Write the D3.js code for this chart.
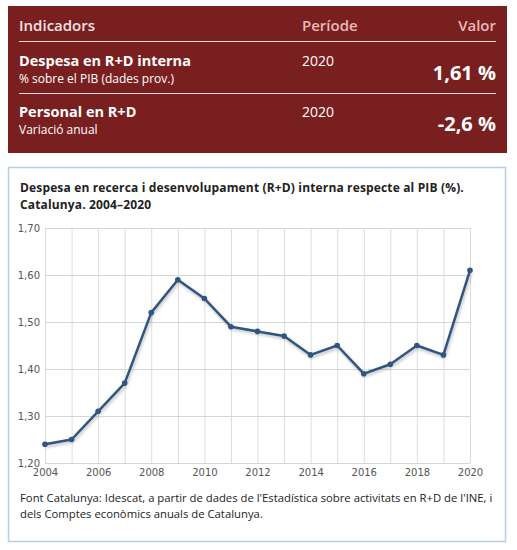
<!DOCTYPE html>
<html>
<head>
<meta charset="utf-8">
<script src="https://cdn.jsdelivr.net/npm/d3@7"></script>
<style>
  body { margin: 0; background: #fff; }
  svg { display: block; font-family: "Open Sans", sans-serif; }
</style>
</head>
<body>
<div id="chart"></div>
<script>
// Indicator table
var headerLabels = ["Indicadors", "Període", "Valor"];
var indicatorNames = ["Despesa en R+D interna", "Personal en R+D"];
var indicatorNotes = ["% sobre el PIB (dades prov.)", "Variació anual"];
var indicatorPeriods = ["2020", "2020"];
var indicatorValues = ["1,61 %", "-2,6 %"];

// Chart data
var years = [2004, 2005, 2006, 2007, 2008, 2009, 2010, 2011, 2012, 2013, 2014, 2015, 2016, 2017, 2018, 2019, 2020];
var rdShare = [1.24, 1.25, 1.31, 1.37, 1.52, 1.59, 1.55, 1.49, 1.48, 1.47, 1.43, 1.45, 1.39, 1.41, 1.45, 1.43, 1.61];
var yTicks = [1.2, 1.3, 1.4, 1.5, 1.6, 1.7];
var xTicks = [2004, 2006, 2008, 2010, 2012, 2014, 2016, 2018, 2020];
var titleLines = ["Despesa en recerca i desenvolupament (R+D) interna respecte al PIB (%).", "Catalunya. 2004–2020"];
var sourceLines = ["Font Catalunya: Idescat, a partir de dades de l'Estadística sobre activitats en R+D de l'INE, i", "dels Comptes econòmics anuals de Catalunya."];

var svgWidth = 517;
var svgHeight = 550;

var svg = d3.select("#chart")
  .append("svg")
  .attr("width", svgWidth)
  .attr("height", svgHeight);

// ---- red indicator box ----
var box = svg.append("g");
box.append("rect")
  .attr("x", 8).attr("y", 6)
  .attr("width", 499).attr("height", 147)
  .attr("fill", "#7a1f20");

box.append("text").attr("x", 19).attr("y", 31)
  .attr("font-size", 15).attr("font-weight", 600).attr("fill", "#f3e3e3")
  .text(headerLabels[0]);
box.append("text").attr("x", 302).attr("y", 31)
  .attr("font-size", 15).attr("font-weight", 600).attr("fill", "#e9b9b9")
  .text(headerLabels[1]);
box.append("text").attr("x", 496).attr("y", 31)
  .attr("text-anchor", "end")
  .attr("font-size", 15).attr("font-weight", 600).attr("fill", "#e9b9b9")
  .text(headerLabels[2]);

var rowTop = [66, 117];
box.selectAll("line.div")
  .data([41, 93])
  .enter().append("line")
  .attr("class", "div")
  .attr("x1", 19).attr("x2", 496)
  .attr("y1", d => d + 0.5).attr("y2", d => d + 0.5)
  .attr("stroke", "#f0dcdc").attr("stroke-width", 1);

indicatorNames.forEach(function(name, i) {
  var y = rowTop[i];
  box.append("text").attr("x", 19).attr("y", y)
    .attr("font-size", 14.5).attr("font-weight", 700).attr("fill", "#fff")
    .text(name);
  box.append("text").attr("x", 19).attr("y", y + 16.5)
    .attr("font-size", 12).attr("fill", "#fff")
    .text(indicatorNotes[i]);
  box.append("text").attr("x", 302).attr("y", y)
    .attr("font-size", 14).attr("fill", "#fff")
    .text(indicatorPeriods[i]);
  box.append("text").attr("x", 496).attr("y", y + 13.5)
    .attr("text-anchor", "end")
    .attr("font-size", 20).attr("font-weight", 700).attr("fill", "#fff")
    .text(indicatorValues[i]);
});

// ---- chart box ----
svg.append("rect")
  .attr("x", 8.5).attr("y", 167.5)
  .attr("width", 497).attr("height", 374)
  .attr("fill", "#fff")
  .attr("stroke", "#b7cde6").attr("stroke-width", 1.5);

svg.append("g")
  .selectAll("text")
  .data(titleLines)
  .enter().append("text")
  .attr("x", 20)
  .attr("y", (d, i) => 192 + i * 16.5)
  .attr("font-size", 12).attr("font-weight", 700).attr("fill", "#222")
  .attr("letter-spacing", 0.15)
  .text(d => d);

var margin = { top: 228, left: 45 };
var width = 470 - 45;
var height = 463 - 228;

var chartGroup = svg.append("g")
  .attr("transform", `translate(${margin.left}, ${margin.top})`);

var xScale = d3.scaleLinear()
  .domain([2004, 2020])
  .range([0, width]);

var yScale = d3.scaleLinear()
  .domain([1.2, 1.7])
  .range([height, 0]);

// gridlines
chartGroup.append("g")
  .selectAll("line")
  .data(years)
  .enter().append("line")
  .attr("x1", d => xScale(d) + 0.5).attr("x2", d => xScale(d) + 0.5)
  .attr("y1", 0).attr("y2", height)
  .attr("stroke", "#dcdcdc");

chartGroup.append("g")
  .selectAll("line")
  .data(yTicks)
  .enter().append("line")
  .attr("x1", 0).attr("x2", width)
  .attr("y1", d => yScale(d) + 0.5).attr("y2", d => yScale(d) + 0.5)
  .attr("stroke", "#d6d6d6");

// axes labels
var fmt = d => d.toFixed(2).replace(".", ",");
var leftAxis = d3.axisLeft(yScale).tickValues(yTicks).tickFormat(fmt).tickSize(0).tickPadding(5);
var bottomAxis = d3.axisBottom(xScale).tickValues(xTicks).tickFormat(d3.format("d")).tickSize(0).tickPadding(6);

var yAxisG = chartGroup.append("g").call(leftAxis);
var xAxisG = chartGroup.append("g").attr("transform", `translate(0, ${height})`).call(bottomAxis);
[yAxisG, xAxisG].forEach(function(g) {
  g.select(".domain").remove();
  g.selectAll("text")
    .attr("font-family", "DejaVu Sans, Verdana, sans-serif")
    .attr("font-size", 10)
    .attr("fill", "#555");
});

// line
var line = d3.line()
  .x((d, i) => xScale(years[i]))
  .y(d => yScale(d));

var defs = svg.append("defs");
defs.append("filter").attr("id", "blur")
  .append("feGaussianBlur").attr("stdDeviation", 1.2);

chartGroup.append("path")
  .datum(rdShare)
  .attr("d", line)
  .attr("transform", "translate(1, 2)")
  .attr("fill", "none")
  .attr("stroke", "#999")
  .attr("stroke-opacity", 0.4)
  .attr("stroke-width", 4)
  .attr("filter", "url(#blur)");

chartGroup.append("path")
  .datum(rdShare)
  .attr("d", line)
  .attr("fill", "none")
  .attr("stroke", "#2f5680")
  .attr("stroke-width", 2.5)
  .attr("stroke-linejoin", "round");

chartGroup.selectAll("circle")
  .data(rdShare)
  .enter().append("circle")
  .attr("cx", (d, i) => xScale(years[i]))
  .attr("cy", d => yScale(d))
  .attr("r", 2.8)
  .attr("fill", "#2f5680");

// source
svg.append("g")
  .selectAll("text")
  .data(sourceLines)
  .enter().append("text")
  .attr("x", 20)
  .attr("y", (d, i) => 502 + i * 15.5)
  .attr("font-size", 11.3).attr("fill", "#222")
  .text(d => d);
</script>
</body>
</html>
